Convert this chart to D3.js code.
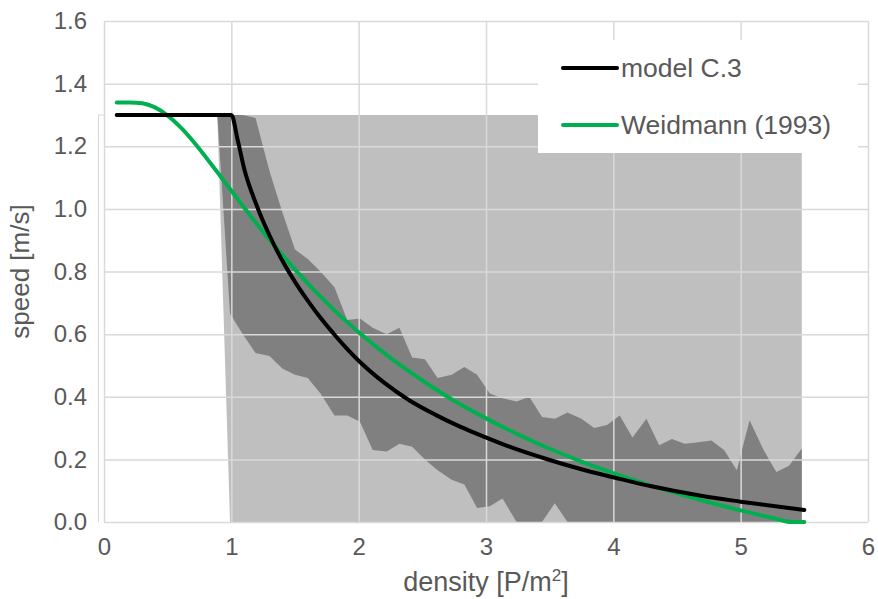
<!DOCTYPE html>
<html>
<head>
<meta charset="utf-8">
<script src="https://cdn.jsdelivr.net/npm/d3@7"></script>
<style>
body { margin: 0; background: #fff; }
text { font-family: "Liberation Sans", Arial, sans-serif; fill: #595959; }
</style>
</head>
<body>
<svg></svg>
<script>

// model C.3
var modelDensity = [0.1, 1.0, 1.05, 1.1, 1.2, 1.3, 1.4, 1.5, 1.6, 1.7, 1.8, 1.9, 2.0, 2.2, 2.4, 2.6, 2.8, 3.0, 3.2, 3.5, 3.8, 4.0, 4.3, 4.7, 5.0, 5.5];
var modelSpeed = [1.3, 1.3, 1.22, 1.13, 1.01, 0.915, 0.835, 0.767, 0.707, 0.652, 0.603, 0.557, 0.515, 0.445, 0.388, 0.343, 0.304, 0.27, 0.238, 0.198, 0.163, 0.143, 0.114, 0.083, 0.065, 0.038];

// Weidmann (1993)
var weidDensity = [0.1, 0.2, 0.3, 0.4, 0.5, 0.6, 0.7, 0.8, 0.9, 1.0, 1.2, 1.4, 1.6, 1.8, 2.0, 2.25, 2.5, 2.75, 3.0, 3.25, 3.5, 3.75, 4.0, 4.25, 4.5, 4.75, 5.0, 5.25, 5.4, 5.5];
var weidSpeed = [1.34, 1.34, 1.337, 1.324, 1.298, 1.261, 1.216, 1.165, 1.112, 1.058, 0.952, 0.853, 0.762, 0.68, 0.606, 0.524, 0.452, 0.387, 0.331, 0.28, 0.234, 0.193, 0.156, 0.122, 0.092, 0.063, 0.037, 0.013, 0, 0];

// measured spread (dark grey band)
var bandDensity = [0.89, 0.99, 1.09, 1.19, 1.30, 1.40, 1.50, 1.60, 1.70, 1.81, 1.91, 2.01, 2.11, 2.22, 2.32, 2.42, 2.52, 2.62, 2.73, 2.83, 2.93, 3.03, 3.13, 3.24, 3.34, 3.44, 3.54, 3.64, 3.75, 3.85, 3.95, 4.05, 4.15, 4.26, 4.36, 4.46, 4.56, 4.67, 4.77, 4.87, 4.97, 5.07, 5.18, 5.28, 5.38, 5.48];
var bandUpper = [1.30, 1.30, 1.30, 1.29, 1.12, 0.99, 0.87, 0.84, 0.80, 0.75, 0.645, 0.65, 0.62, 0.60, 0.62, 0.525, 0.52, 0.46, 0.47, 0.495, 0.47, 0.41, 0.395, 0.385, 0.40, 0.335, 0.33, 0.35, 0.33, 0.30, 0.31, 0.34, 0.27, 0.33, 0.245, 0.265, 0.25, 0.255, 0.26, 0.23, 0.165, 0.325, 0.23, 0.16, 0.18, 0.235];
var bandLower = [1.30, 0.665, 0.60, 0.54, 0.53, 0.49, 0.47, 0.46, 0.41, 0.34, 0.34, 0.32, 0.23, 0.225, 0.25, 0.24, 0.20, 0.165, 0.135, 0.12, 0.045, 0.05, 0.075, 0, 0, 0, 0.06, 0, 0, 0, 0, 0, 0, 0, 0, 0, 0, 0, 0, 0, 0, 0, 0, 0, 0, 0];

// full range (light grey)
var rangeDensity = [0.89, 0.99, 5.48];
var rangeTop = [1.3, 1.3, 1.3];
var rangeBottom = [1.3, 0, 0];

var xTicks = [0, 1, 2, 3, 4, 5, 6];
var yTicks = [0, 0.2, 0.4, 0.6, 0.8, 1.0, 1.2, 1.4, 1.6];
var legendNames = ["model C.3", "Weidmann (1993)"];
var legendColors = ["#000000", "#00b050"];

var screen = {width: 878, height: 599};
var margins = {top: 21, right: 10, bottom: 77, left: 104};

var makeGraph = function()
{
    var svg = d3.select("svg")
    .attr("width", screen.width)
    .attr("height", screen.height);

    var width = screen.width - margins.left - margins.right;
    var height = screen.height - margins.top - margins.bottom;

    var xScale = d3.scaleLinear().domain([0, 6]).range([0, width]);
    var yScale = d3.scaleLinear().domain([0, 1.6]).range([height, 0]);

    var graph = svg.append("g")
    .attr("id", "graph")
    .attr("transform", "translate(" + margins.left + "," + margins.top + ")");

    drawAreas(graph, xScale, yScale);

    // gridlines sit on top of the grey areas
    var grid = graph.append("g").attr("id", "grid");
    grid.append("g")
    .call(d3.axisLeft(yScale).tickValues(yTicks).tickSize(-width).tickFormat(""));
    grid.append("g")
    .attr("transform", "translate(0," + height + ")")
    .call(d3.axisBottom(xScale).tickValues(xTicks).tickSize(-height).tickFormat(""));
    grid.selectAll(".domain").remove();
    grid.selectAll("line").attr("stroke", "#d9d9d9").attr("stroke-width", 1.5);

    // faint frame of the secondary area plot
    graph.append("path")
    .attr("fill", "none")
    .attr("stroke", "#d9d9d9")
    .attr("stroke-width", 1)
    .attr("d", "M" + (xScale(0) - 5.5) + "," + yScale(0) + "V" + yScale(1.3) + "H" + xScale(0));

    drawLines(graph, xScale, yScale);
    drawAxes(graph, xScale, yScale, width, height);
    drawLegend(svg);
}

var drawAreas = function(graph, xScale, yScale)
{
    var area = d3.area()
    .x(function(d) { return xScale(d.x); })
    .y0(function(d) { return yScale(d.lo); })
    .y1(function(d) { return yScale(d.hi); });

    var range = rangeDensity.map(function(x, i) {
        return {x: x, lo: rangeBottom[i], hi: rangeTop[i]};
    });
    var band = bandDensity.map(function(x, i) {
        return {x: x, lo: bandLower[i], hi: bandUpper[i]};
    });

    graph.append("path")
    .datum(range)
    .attr("fill", "#bfbfbf")
    .attr("d", area);

    graph.append("path")
    .datum(band)
    .attr("fill", "#808080")
    .attr("d", area);
}

var drawLines = function(graph, xScale, yScale)
{
    var lineGenerator = d3.line()
    .x(function(d) { return xScale(d[0]); })
    .y(function(d) { return yScale(d[1]); })
    .curve(d3.curveMonotoneX);

    var series = [
        {color: legendColors[1], pts: d3.zip(weidDensity, weidSpeed)},
        {color: legendColors[0], pts: d3.zip(modelDensity, modelSpeed)}
    ];

    graph.selectAll(".series")
    .data(series)
    .enter()
    .append("path")
    .attr("class", "series")
    .attr("fill", "none")
    .attr("stroke", function(d) { return d.color; })
    .attr("stroke-width", 4)
    .attr("stroke-linecap", "round")
    .attr("stroke-linejoin", "round")
    .attr("d", function(d) { return lineGenerator(d.pts); });
}

var drawAxes = function(graph, xScale, yScale, width, height)
{
    var yAxis = graph.append("g")
    .attr("id", "yAxis")
    .call(d3.axisLeft(yScale).tickValues(yTicks).tickSize(0).tickPadding(17).tickFormat(d3.format(".1f")));

    var xAxis = graph.append("g")
    .attr("id", "xAxis")
    .attr("transform", "translate(0," + height + ")")
    .call(d3.axisBottom(xScale).tickValues(xTicks).tickSize(0).tickPadding(16).tickFormat(d3.format("d")));

    graph.selectAll("#xAxis .domain, #yAxis .domain").remove();
    graph.selectAll("#xAxis text, #yAxis text")
    .attr("fill", "#595959")
    .style("font-size", "24px")
    .style("font-family", "'Liberation Sans', Arial, sans-serif");

    var xTitle = graph.append("text")
    .attr("x", width / 2)
    .attr("y", height + 69)
    .attr("text-anchor", "middle")
    .style("font-size", "27px");
    xTitle.append("tspan").text("density [P/m");
    xTitle.append("tspan").attr("dy", -10).style("font-size", "17px").text("2");
    xTitle.append("tspan").attr("dy", 10).text("]");

    graph.append("text")
    .attr("transform", "translate(" + (-75) + "," + (height / 2) + ") rotate(-90)")
    .attr("text-anchor", "middle")
    .style("font-size", "26px")
    .text("speed [m/s]");
}

var drawLegend = function(svg)
{
    var legend = svg.append("g")
    .attr("id", "legend")
    .attr("transform", "translate(538,40)");

    legend.append("rect")
    .attr("width", 320)
    .attr("height", 113)
    .attr("fill", "#ffffff");

    var items = legend.selectAll(".item")
    .data(legendNames)
    .enter()
    .append("g")
    .attr("class", "item")
    .attr("transform", function(d, i) { return "translate(0," + (28 + i * 57) + ")"; });

    items.append("line")
    .attr("x1", 25)
    .attr("x2", 79)
    .attr("stroke", function(d, i) { return legendColors[i]; })
    .attr("stroke-width", 4)
    .attr("stroke-linecap", "round");

    items.append("text")
    .attr("x", 83)
    .attr("y", 9)
    .style("font-size", "26.5px")
    .text(function(d) { return d; });
}

makeGraph();
</script>
</body>
</html>
